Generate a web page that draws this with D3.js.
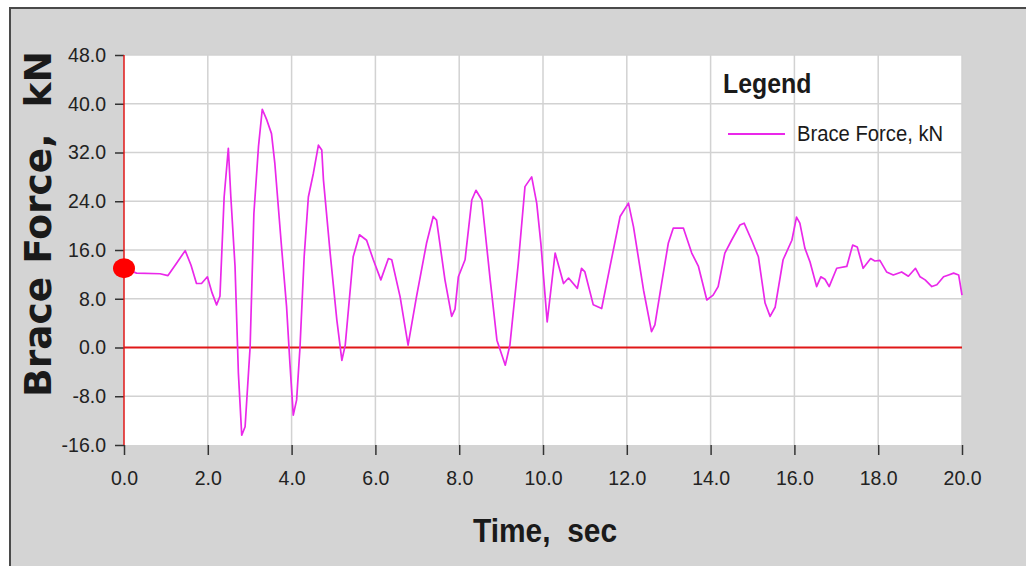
<!DOCTYPE html>
<html>
<head>
<meta charset="utf-8">
<script src="https://cdn.jsdelivr.net/npm/d3@7"></script>
<style>
  html, body { margin: 0; padding: 0; background: #ffffff; }
  svg { display: block; }
  text { white-space: pre; }
</style>
</head>
<body>
<svg id="chart" width="1026" height="566"></svg>
<script>
// Brace force response history
const timeSec = [
  0.00, 0.30, 0.86, 1.05, 1.25, 1.46, 1.60, 1.73, 1.85, 1.99,
  2.10, 2.21, 2.29, 2.39, 2.49, 2.55, 2.65, 2.73, 2.81, 2.89,
  3.01, 3.10, 3.21, 3.30, 3.41, 3.52, 3.60, 3.76, 3.88, 3.96,
  4.04, 4.12, 4.20, 4.30, 4.40, 4.52, 4.64, 4.72, 4.76, 4.92,
  5.08, 5.20, 5.28, 5.47, 5.62, 5.79, 5.95, 6.13, 6.31, 6.39,
  6.59, 6.78, 6.98, 7.22, 7.38, 7.46, 7.66, 7.82, 7.90, 7.98,
  8.14, 8.30, 8.40, 8.54, 8.74, 8.90, 9.10, 9.21, 9.41, 9.57,
  9.73, 9.85, 9.95, 10.10, 10.29, 10.49, 10.61, 10.82, 10.92, 11.00,
  11.20, 11.40, 11.60, 11.84, 12.04, 12.16, 12.40, 12.59, 12.67, 12.83,
  12.99, 13.11, 13.35, 13.55, 13.71, 13.91, 14.06, 14.18, 14.34, 14.50,
  14.70, 14.80, 14.98, 15.14, 15.30, 15.42, 15.54, 15.73, 15.94, 16.05,
  16.13, 16.25, 16.37, 16.53, 16.63, 16.73, 16.83, 17.01, 17.25, 17.39,
  17.50, 17.64, 17.82, 17.92, 18.04, 18.20, 18.36, 18.56, 18.72, 18.89,
  19.00, 19.12, 19.28, 19.40, 19.56, 19.68, 19.80, 19.92, 20.00
];
const braceForce = [
  13.0, 12.2, 12.1, 11.8, 13.8, 15.9, 13.5, 10.5, 10.5, 11.6,
  9.0, 7.0, 8.4, 24.7, 32.7, 24.7, 13.3, -4.2, -14.4, -13.0,
  0.1, 22.0, 33.0, 39.1, 37.3, 35.1, 30.2, 16.5, 6.7, -2.6,
  -11.1, -8.6, 0.0, 14.9, 24.7, 28.6, 33.2, 32.4, 27.5, 15.5,
  4.5, -2.1, 0.4, 14.9, 18.5, 17.6, 14.4, 11.1, 14.6, 14.4,
  8.3, 0.4, 8.3, 17.1, 21.5, 20.9, 11.1, 5.1, 6.3, 11.6,
  14.4, 24.2, 25.8, 24.2, 11.1, 1.2, -2.9, 0.4, 13.8, 26.4,
  28.0, 23.7, 17.0, 4.2, 15.5, 10.5, 11.4, 9.7, 13.0, 12.4,
  7.0, 6.4, 13.3, 21.5, 23.7, 19.8, 9.4, 2.6, 3.7, 10.5,
  17.1, 19.6, 19.6, 15.5, 13.3, 7.8, 8.6, 10.0, 15.5, 17.6,
  20.1, 20.4, 17.6, 14.9, 7.3, 5.1, 6.6, 14.4, 17.6, 21.4,
  20.4, 16.3, 14.1, 10.0, 11.6, 11.2, 10.0, 13.0, 13.3, 16.8,
  16.5, 13.0, 14.6, 14.2, 14.3, 12.4, 11.9, 12.4, 11.7, 13.0,
  11.6, 11.1, 10.0, 10.3, 11.6, 11.9, 12.2, 11.9, 8.6
];
const xTickValues = [0, 2, 4, 6, 8, 10, 12, 14, 16, 18, 20];
const yTickValues = [-16, -8, 0, 8, 16, 24, 32, 40, 48];
const seriesName = "Brace Force, kN";
const xTitle = "Time,  sec";
const yTitle = "Brace Force,  kN";
const legendTitle = "Legend";

const svg = d3.select("#chart");
const W = 1026, H = 566;
const plot = { left: 124, right: 962, top: 55, bottom: 445 };

const x = d3.scaleLinear().domain([0, 20]).range([plot.left, plot.right]);
const y = d3.scaleLinear().domain([-16, 48]).range([plot.bottom, plot.top]);

const data = timeSec.map((t, i) => ({ t, v: braceForce[i] }));

// one-decimal labels with a plain hyphen for negatives
const fmt1 = d => d.toFixed(1);

// outer panel
svg.append("rect").attr("x", 0).attr("y", 0).attr("width", W).attr("height", H).attr("fill", "#ffffff");
svg.append("rect").attr("x", 10).attr("y", 8).attr("width", W - 10).attr("height", H - 8).attr("fill", "#d4d4d4");
svg.append("line").attr("x1", 10).attr("x2", 10).attr("y1", 7).attr("y2", H).attr("stroke", "#4a4a4a").attr("stroke-width", 2);
svg.append("line").attr("x1", 9).attr("x2", W).attr("y1", 8).attr("y2", 8).attr("stroke", "#4a4a4a").attr("stroke-width", 2);

// plot area
svg.append("rect")
  .attr("x", plot.left).attr("y", plot.top)
  .attr("width", plot.right - plot.left).attr("height", plot.bottom - plot.top)
  .attr("fill", "#ffffff");

// grid
const grid = svg.append("g").attr("stroke", "#d2d2d2").attr("stroke-width", 1.5);
grid.selectAll("line.v").data(xTickValues.filter(d => d > 0)).join("line")
  .attr("x1", d => x(d)).attr("x2", d => x(d))
  .attr("y1", plot.top).attr("y2", plot.bottom);
grid.selectAll("line.h").data(yTickValues.filter(d => d !== 0 && d !== -16)).join("line")
  .attr("x1", plot.left).attr("x2", plot.right)
  .attr("y1", d => y(d)).attr("y2", d => y(d));

// zero line
svg.append("line")
  .attr("x1", plot.left).attr("x2", plot.right)
  .attr("y1", y(0)).attr("y2", y(0))
  .attr("stroke", "#e01818").attr("stroke-width", 2);

const tickFont = "'Liberation Sans', Arial, sans-serif";

// y axis
const yAxis = svg.append("g")
  .attr("transform", `translate(${plot.left},0)`)
  .call(d3.axisLeft(y).tickValues(yTickValues).tickSize(9).tickPadding(8).tickFormat(fmt1));
yAxis.select(".domain").remove();
yAxis.selectAll(".tick line").attr("stroke", "#333").attr("stroke-width", 1.5);
yAxis.selectAll(".tick text")
  .attr("fill", "#222").attr("font-family", tickFont).attr("font-size", 19.5)
  .attr("x", -18).attr("dy", "0.33em");

// x axis
const xAxis = svg.append("g")
  .attr("transform", `translate(0,${plot.bottom})`)
  .call(d3.axisBottom(x).tickValues(xTickValues).tickSize(10).tickFormat(fmt1));
xAxis.select(".domain").remove();
xAxis.selectAll(".tick line").attr("stroke", "#333").attr("stroke-width", 1.5);
xAxis.selectAll(".tick text")
  .attr("fill", "#222").attr("font-family", tickFont).attr("font-size", 19.5)
  .attr("y", 40).attr("dy", 0);

// red vertical axis line
svg.append("line")
  .attr("x1", plot.left).attr("x2", plot.left)
  .attr("y1", plot.top).attr("y2", plot.bottom)
  .attr("stroke", "#e01818").attr("stroke-width", 1.5);

// force series
const line = d3.line().x(d => x(d.t)).y(d => y(d.v));
svg.append("path")
  .datum(data)
  .attr("d", line)
  .attr("fill", "none")
  .attr("stroke", "#ea28ea")
  .attr("stroke-width", 1.7)
  .attr("stroke-linejoin", "round");

// current-time marker
svg.append("ellipse")
  .attr("cx", x(data[0].t)).attr("cy", y(data[0].v))
  .attr("rx", 11).attr("ry", 10)
  .attr("fill", "#ff0000");

// axis titles
svg.append("text")
  .attr("transform", `translate(545,542) scale(0.88,1)`)
  .attr("text-anchor", "middle")
  .attr("font-family", "'Liberation Sans', Arial, sans-serif")
  .attr("font-weight", "bold").attr("font-size", 34).attr("fill", "#1a1a1a")
  .text(xTitle);

svg.append("text")
  .attr("transform", `translate(51,224) rotate(-90)`)
  .attr("text-anchor", "middle")
  .attr("font-family", "'DejaVu Sans', Verdana, sans-serif")
  .attr("font-weight", "bold").attr("font-size", 37.5).attr("fill", "#1a1a1a")
  .text(yTitle);

// legend
svg.append("text")
  .attr("transform", `translate(723,93) scale(0.92,1)`)
  .attr("font-family", "'Liberation Sans', Arial, sans-serif")
  .attr("font-weight", "bold").attr("font-size", 27).attr("fill", "#1a1a1a")
  .text(legendTitle);
svg.append("line")
  .attr("x1", 728).attr("x2", 785).attr("y1", 134).attr("y2", 134)
  .attr("stroke", "#ea28ea").attr("stroke-width", 2);
svg.append("text")
  .attr("transform", `translate(797,141) scale(0.92,1)`)
  .attr("font-family", "'Liberation Sans', Arial, sans-serif")
  .attr("font-size", 22).attr("fill", "#1a1a1a")
  .text(seriesName);
</script>
</body>
</html>
